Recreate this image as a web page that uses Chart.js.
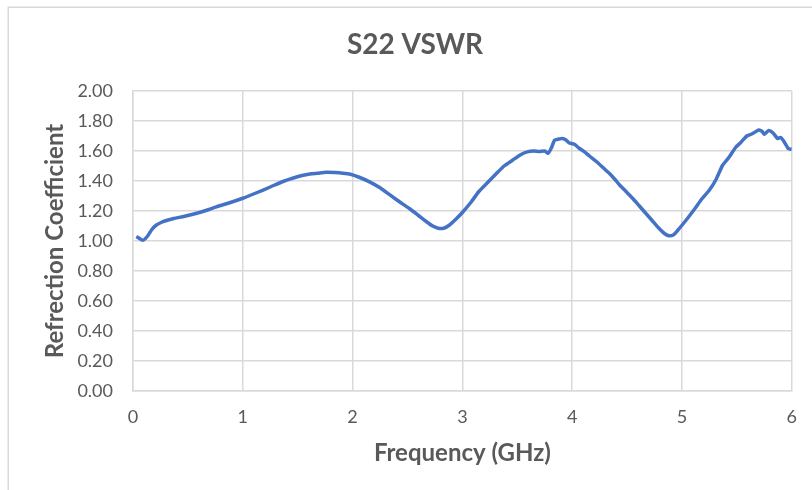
<!DOCTYPE html>
<html>
<head>
<meta charset="utf-8">
<script src="https://cdn.jsdelivr.net/npm/chart.js@4.4.0/dist/chart.umd.min.js"></script>
<style>
  html, body { margin: 0; padding: 0; background: #ffffff; }
  #wrap { position: relative; width: 812px; height: 490px; }
</style>
</head>
<body>
<div id="wrap"><canvas id="c" width="812" height="490"></canvas></div>
<script>
const chartTitle = "S22 VSWR";
const xAxisTitle = "Frequency (GHz)";
const yAxisTitle = "Refrection Coefficient";
const seriesName = "S22 VSWR";

const frequencyGHz = [0.03, 0.09, 0.13, 0.17, 0.21, 0.26, 0.32, 0.37, 0.47, 0.58, 0.67, 0.76, 0.88, 1.00, 1.12, 1.25, 1.36, 1.46, 1.54, 1.61, 1.68, 1.76, 1.84, 1.91, 1.98, 2.06, 2.15, 2.25, 2.34, 2.43, 2.52, 2.60, 2.67, 2.73, 2.78, 2.83, 2.88, 2.94, 3.00, 3.08, 3.15, 3.23, 3.31, 3.38, 3.46, 3.53, 3.59, 3.65, 3.70, 3.75, 3.78, 3.81, 3.84, 3.88, 3.91, 3.94, 3.97, 4.02, 4.06, 4.11, 4.16, 4.22, 4.28, 4.34, 4.39, 4.43, 4.49, 4.55, 4.61, 4.67, 4.73, 4.79, 4.84, 4.88, 4.92, 4.96, 5.00, 5.06, 5.12, 5.18, 5.25, 5.31, 5.37, 5.43, 5.49, 5.54, 5.59, 5.64, 5.70, 5.73, 5.75, 5.79, 5.83, 5.87, 5.90, 5.93, 5.97, 6.00];
const vswrValues   = [1.03, 1.005, 1.03, 1.075, 1.105, 1.125, 1.14, 1.15, 1.165, 1.185, 1.205, 1.228, 1.255, 1.285, 1.32, 1.36, 1.395, 1.42, 1.437, 1.447, 1.452, 1.458, 1.456, 1.452, 1.445, 1.425, 1.396, 1.355, 1.307, 1.26, 1.215, 1.17, 1.13, 1.1, 1.085, 1.085, 1.105, 1.145, 1.19, 1.26, 1.33, 1.39, 1.45, 1.5, 1.54, 1.575, 1.594, 1.6, 1.596, 1.6, 1.585, 1.62, 1.673, 1.68, 1.684, 1.675, 1.655, 1.645, 1.62, 1.596, 1.565, 1.53, 1.49, 1.45, 1.41, 1.375, 1.33, 1.285, 1.235, 1.185, 1.135, 1.085, 1.05, 1.035, 1.04, 1.07, 1.105, 1.16, 1.218, 1.28, 1.34, 1.41, 1.505, 1.56, 1.625, 1.66, 1.7, 1.715, 1.74, 1.73, 1.712, 1.736, 1.72, 1.684, 1.69, 1.662, 1.615, 1.612];

const xTickMin = 0, xTickMax = 6, xTickStep = 1;
const yTickMin = 0, yTickMax = 2, yTickStep = 0.2;

const points = frequencyGHz.map((f, i) => ({ x: f, y: vswrValues[i] }));

const gridColor = '#d9d9d9';
const textColor = '#595959';
const fontFamily = 'Lato, "Open Sans", "Liberation Sans", sans-serif';

const outerBorder = {
  id: 'outerBorder',
  beforeDraw(chart) {
    const ctx = chart.ctx;
    ctx.save();
    ctx.fillStyle = '#ffffff';
    ctx.fillRect(0, 0, chart.width, chart.height);
    ctx.strokeStyle = '#d9d9d9';
    ctx.lineWidth = 1.5;
    ctx.strokeRect(8.25, 7.25, chart.width + 40, chart.height + 40);
    ctx.restore();
  },
  afterDraw(chart) {
    const ctx = chart.ctx;
    ctx.save();
    ctx.fillStyle = textColor;
    ctx.font = 'bold 28px ' + fontFamily;
    ctx.textAlign = 'center';
    ctx.textBaseline = 'middle';
    ctx.fillText(chartTitle, 415, 45);
    ctx.restore();
  }
};

new Chart(document.getElementById('c'), {
  type: 'line',
  data: {
    datasets: [{
      label: seriesName,
      data: points,
      borderColor: '#4472C4',
      backgroundColor: '#4472C4',
      borderWidth: 3.5,
      pointRadius: 0,
      tension: 0.2,
      fill: false
    }]
  },
  options: {
    responsive: false,
    animation: false,
    layout: { padding: { left: 0, right: 19, top: 91, bottom: 0 } },
    plugins: {
      legend: { display: false },
      tooltip: { enabled: false },
      title: { display: false }
    },
    scales: {
      x: {
        type: 'linear',
        min: xTickMin,
        max: xTickMax,
        afterFit(scale) { scale.height = 99; },
        ticks: {
          stepSize: xTickStep,
          color: textColor,
          font: { family: fontFamily, size: 18 },
          padding: 15,
          maxRotation: 0
        },
        grid: { color: gridColor, lineWidth: 1.5, drawTicks: false },
        border: { color: gridColor, width: 1.5 },
        title: {
          display: true,
          text: xAxisTitle,
          color: textColor,
          font: { family: fontFamily, size: 24, weight: 'bold' },
          padding: { top: 0, bottom: 22.6 }
        }
      },
      y: {
        type: 'linear',
        min: yTickMin,
        max: yTickMax,
        afterFit(scale) { scale.width = 133; },
        ticks: {
          stepSize: yTickStep,
          color: textColor,
          font: { family: fontFamily, size: 18 },
          padding: 20,
          callback: v => Number(v).toFixed(2)
        },
        grid: { color: gridColor, lineWidth: 1.5, drawTicks: false },
        border: { color: gridColor, width: 1.5 },
        title: {
          display: true,
          text: yAxisTitle,
          color: textColor,
          font: { family: fontFamily, size: 24, weight: 'bold' },
          padding: { top: 40.6, bottom: 0 }
        }
      }
    }
  },
  plugins: [outerBorder]
});
</script>
</body>
</html>
